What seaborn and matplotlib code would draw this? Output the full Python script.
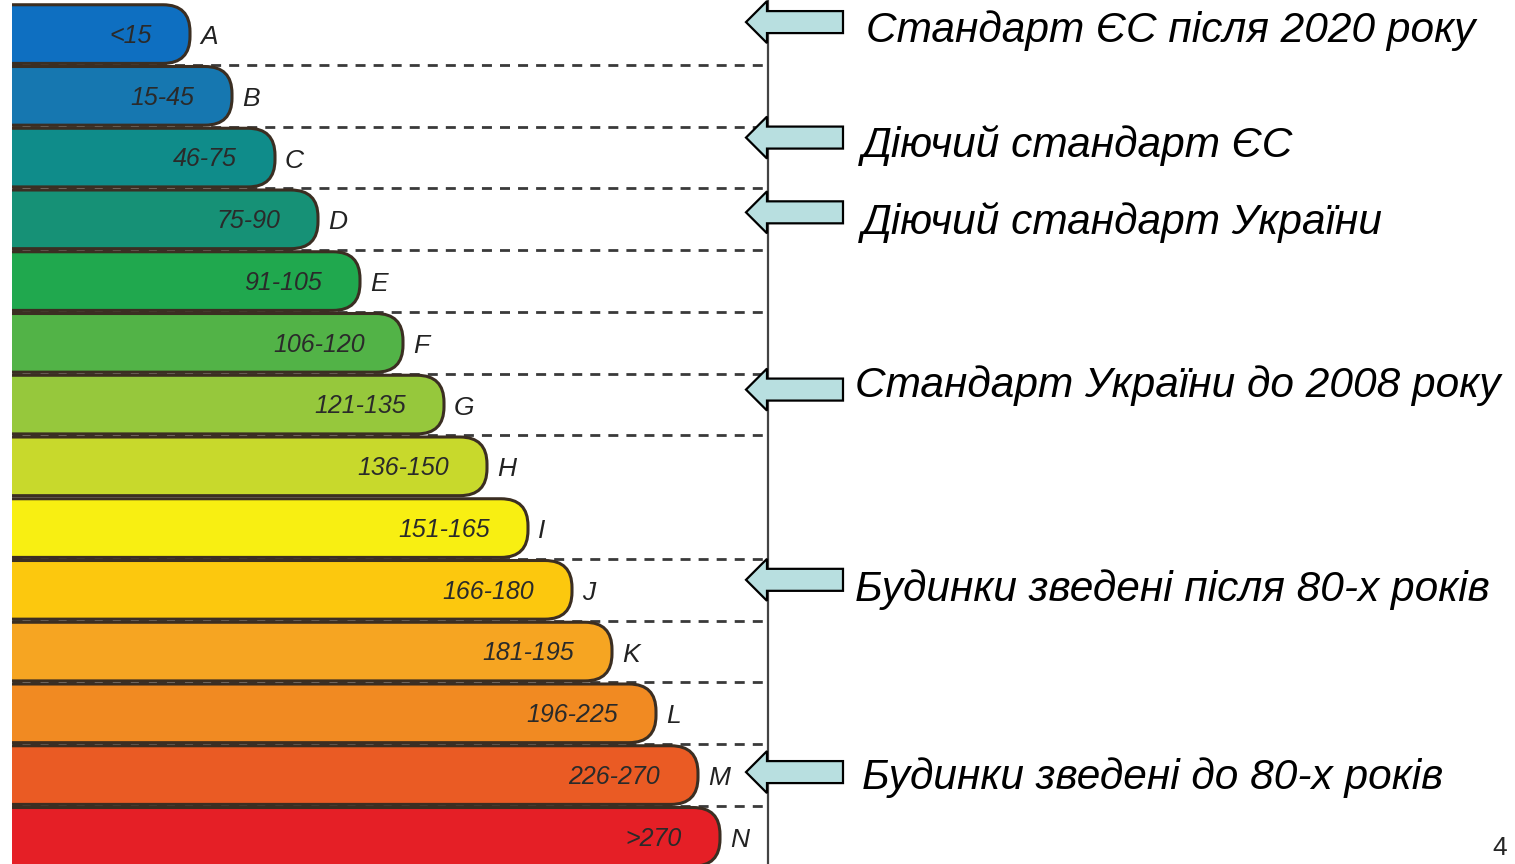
import numpy as np
import pandas as pd
import matplotlib
matplotlib.use("Agg")
import matplotlib.pyplot as plt
import seaborn as sns
from matplotlib.patches import FancyBboxPatch, Polygon

# energy classes, their kWh/m2 ranges and bar lengths (px-like units)
classes = list("ABCDEFGHIJKLMN")
ranges = ["<15", "15-45", "46-75", "75-90", "91-105", "106-120", "121-135",
          "136-150", "151-165", "166-180", "181-195", "196-225", "226-270", ">270"]
bar_len = [178, 220, 263, 306, 348, 391, 432, 475, 516, 560, 600, 644, 686, 708]
bar_colors = ["#0e6fc1", "#1677b0", "#0f8c8a", "#169176", "#20a84e", "#52b347", "#96c83c",
              "#c8d92c", "#f8ef12", "#fcc80e", "#f6a522", "#f18a22", "#ea5b24", "#e51f26"]

note_class = ["A", "C", "D", "G", "J", "M"]
note_text = ["Стандарт ЄС після 2020 року",
             "Діючий стандарт ЄС",
             "Діючий стандарт України",
             "Стандарт України до 2008 року",
             "Будинки зведені після 80-х років",
             "Будинки зведені до 80-х років"]
note_arrow_dy = [-12, -20, -7, -15, -10, -3]
note_text_dy = [-3, -12, 3, -19, 0, 3]
note_x = [866, 862, 862, 855, 855, 862]

df = pd.DataFrame({"cls": classes, "len": bar_len, "rng": ranges})

sns.set_style("white")
plt.rcParams["font.family"] = ["Liberation Sans", "DejaVu Sans"]

W, H = 1515, 864
fig = plt.figure(figsize=(W / 100, H / 100), dpi=100)
ax = fig.add_axes([12 / W, 0, 756 / W, 1])

sns.barplot(data=df, x="len", y="cls", hue="cls", palette=bar_colors, orient="h",
            width=0.95, legend=False, ax=ax, saturation=1)
ax.set_xlim(0, 756)
ax.set_ylim(13.44, -0.552)
ax.set_xlabel("")
ax.set_ylabel("")
ax.set_xticks([])
ax.set_yticks([])
for s in ["top", "left", "bottom"]:
    ax.spines[s].set_visible(False)
ax.spines["right"].set_color("#444444")
ax.spines["right"].set_linewidth(1.6)

fig.canvas.draw()
p0 = ax.transData.transform((0, 0))
p1 = ax.transData.transform((1, 1))
aspect = abs(p1[0] - p0[0]) / abs(p1[1] - p0[1])

# swap plain bars for rounded ones
bars = list(ax.patches)
for b in bars:
    x0, y0 = b.get_x(), b.get_y()
    w, h = b.get_width(), b.get_height()
    fc = b.get_facecolor()
    b.remove()
    rb = FancyBboxPatch((x0 - 60, y0), w + 60, h,
                        boxstyle="round,pad=0,rounding_size=27",
                        mutation_aspect=aspect, facecolor=fc,
                        edgecolor="#3b2e22", linewidth=2.2, zorder=2)
    ax.add_patch(rb)

# dashed separators (none between H and I)
seps = [i + 0.5 for i in range(len(classes) - 1) if classes[i] != "H"]
ax.hlines(seps, 0, 756, colors="#3a3a3a", linewidth=2,
          linestyles=(0, (3.6, 2.9)), zorder=1)

for i, (c, n, r) in enumerate(zip(classes, bar_len, ranges)):
    ax.text(n - 38, i + 0.03, r, ha="right", va="center", fontsize=18, style="italic",
            color="#2a2a2a", zorder=3)
    ax.text(n + 10, i + 0.05, c, ha="left", va="center", fontsize=19, style="italic",
            color="#222222", zorder=3)

# overlay in pixel units for arrows and notes
ov = fig.add_axes([0, 0, 1, 1])
ov.set_xlim(0, W)
ov.set_ylim(H, 0)
ov.axis("off")
ov.patch.set_alpha(0)

for c, t, ady, tdy, tx in zip(note_class, note_text, note_arrow_dy, note_text_dy, note_x):
    row = classes.index(c)
    yc = H - ax.transData.transform((0, row))[1]
    ya = yc + ady
    verts = [(746, ya), (767, ya - 21), (767, ya - 11), (843, ya - 11),
             (843, ya + 11), (767, ya + 11), (767, ya + 21)]
    ov.add_patch(Polygon(verts, closed=True, facecolor="#b8dfe0",
                         edgecolor="black", linewidth=1.6))
    ov.text(tx, yc + tdy, t, ha="left", va="center", fontsize=30.5,
            style="italic", color="black")

fig.text(1500 / W, 1 - 848 / H, "4", ha="center", va="center", fontsize=19)

fig.savefig("out.png", dpi=100)
